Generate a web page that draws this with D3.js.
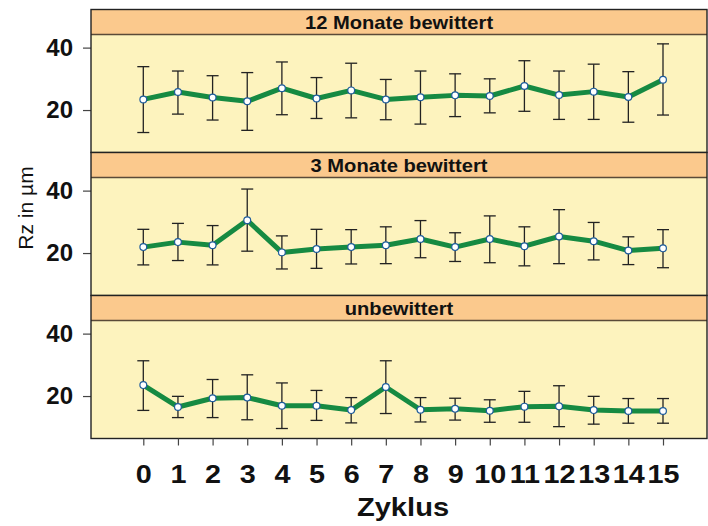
<!DOCTYPE html>
<html>
<head>
<meta charset="utf-8">
<script src="https://cdn.jsdelivr.net/npm/d3@7"></script>
<style>
  body { margin: 0; background: #fff; }
  svg { display: block; font-family: Arial, "Liberation Sans", sans-serif; }
</style>
</head>
<body>
<div id="chart"></div>
<script>
const cycles = [0, 1, 2, 3, 4, 5, 6, 7, 8, 9, 10, 11, 12, 13, 14, 15];
const panelNames = ['12 Monate bewittert', '3 Monate bewittert', 'unbewittert'];
const yTicks = [20, 40];

// 12 Monate bewittert
const mean12 = [23.4, 25.8, 24.0, 22.8, 27.0, 23.7, 26.3, 23.4, 24.1, 24.7, 24.5, 27.7, 24.8, 25.9, 24.2, 29.7];
const low12 = [12.8, 18.7, 16.8, 13.5, 18.5, 17.3, 17.5, 16.9, 15.5, 17.9, 19.1, 19.6, 17.0, 17.0, 16.1, 18.4];
const high12 = [33.9, 32.5, 31.0, 32.0, 35.4, 30.4, 35.0, 29.8, 32.5, 31.6, 30.0, 35.8, 32.5, 34.7, 32.3, 41.2];

// 3 Monate bewittert
const mean3 = [21.9, 23.5, 22.5, 30.5, 20.2, 21.3, 21.9, 22.5, 24.5, 21.9, 24.5, 22.2, 25.3, 23.8, 20.8, 21.5];
const low3 = [16.2, 17.6, 16.2, 20.6, 14.9, 15.1, 16.5, 16.6, 18.5, 17.3, 16.9, 15.9, 16.6, 17.8, 16.3, 15.3];
const high3 = [27.6, 29.5, 28.8, 40.5, 25.5, 27.6, 27.5, 28.4, 30.4, 26.5, 31.9, 28.4, 33.9, 29.8, 25.2, 27.5];

// unbewittert
const mean0 = [23.5, 16.5, 19.3, 19.5, 16.9, 16.9, 15.5, 22.9, 15.6, 15.9, 15.3, 16.6, 16.7, 15.5, 15.2, 15.2];
const low0 = [15.4, 13.1, 13.1, 12.4, 9.6, 12.2, 11.4, 14.4, 11.7, 12.3, 11.6, 11.6, 10.2, 11.0, 11.3, 11.3];
const high0 = [31.3, 19.9, 25.3, 26.8, 24.2, 21.8, 19.5, 31.3, 19.5, 19.3, 18.8, 21.5, 23.3, 19.9, 19.2, 19.2];

const series = [
  { mean: mean12, low: low12, high: high12 },
  { mean: mean3, low: low3, high: high3 },
  { mean: mean0, low: low0, high: high0 }
];

const width = 708;
const height = 526;
const left = 91, right = 707;
const top0 = 9.5, stripH = 25, plotH = 118, panelH = stripH + plotH;

const svg = d3.select('#chart')
  .append('svg')
    .attr('width', width)
    .attr('height', height);

const x = d3.scaleLinear()
  .domain([0, 15])
  .range([143.3, 663]);

panelNames.forEach((name, i) => {
  const s = series[i];
  const pTop = top0 + i * panelH;
  const plotTop = pTop + stripH;
  const plotBottom = plotTop + plotH;

  const y = d3.scaleLinear()
    .domain([6.4, 44.2])
    .range([plotBottom, plotTop]);

  const g = svg.append('g');

  // strip
  g.append('rect')
    .attr('x', left).attr('y', pTop)
    .attr('width', right - left).attr('height', stripH)
    .attr('fill', '#fbc98d');
  g.append('text')
    .attr('transform', `translate(${(left + right) / 2},${pTop + 19}) scale(1.12,1)`)
    .attr('text-anchor', 'middle')
    .attr('font-weight', 'bold')
    .attr('font-size', 18)
    .attr('fill', '#111')
    .text(name);

  // plot area
  g.append('rect')
    .attr('x', left).attr('y', plotTop)
    .attr('width', right - left).attr('height', plotH)
    .attr('fill', '#fdf3be');

  // y axis
  const ay = g.append('g')
    .attr('transform', `translate(${left},0)`)
    .call(d3.axisLeft(y).tickValues(yTicks).tickSize(8).tickPadding(10));
  ay.select('.domain').remove();
  ay.selectAll('line').attr('stroke', '#444').attr('stroke-width', 1.2);
  ay.selectAll('text')
    .attr('font-size', 24)
    .attr('font-weight', 'bold')
    .attr('font-family', 'Arial, "Liberation Sans", sans-serif')
    .attr('fill', '#111');

  // error bars
  const bars = g.append('g')
    .attr('stroke', '#222')
    .attr('stroke-width', 1.3);
  cycles.forEach((c, j) => {
    const cx = x(c);
    bars.append('line')
      .attr('x1', cx).attr('x2', cx)
      .attr('y1', y(s.low[j])).attr('y2', y(s.high[j]));
    bars.append('line')
      .attr('x1', cx - 6).attr('x2', cx + 6)
      .attr('y1', y(s.low[j])).attr('y2', y(s.low[j]));
    bars.append('line')
      .attr('x1', cx - 6).attr('x2', cx + 6)
      .attr('y1', y(s.high[j])).attr('y2', y(s.high[j]));
  });

  // mean line
  const line = d3.line()
    .x((d, j) => x(cycles[j]))
    .y(d => y(d));
  g.append('path')
    .datum(s.mean)
    .attr('d', line)
    .attr('fill', 'none')
    .attr('stroke', '#168a42')
    .attr('stroke-width', 5)
    .attr('stroke-linejoin', 'round');

  g.selectAll('circle')
    .data(s.mean)
    .enter()
    .append('circle')
      .attr('cx', (d, j) => x(cycles[j]))
      .attr('cy', d => y(d))
      .attr('r', 3.4)
      .attr('fill', '#fff')
      .attr('stroke', '#1f5d9c')
      .attr('stroke-width', 1.2);

  // borders
  g.append('line')
    .attr('x1', left).attr('x2', right)
    .attr('y1', plotTop).attr('y2', plotTop)
    .attr('stroke', '#5a4a38').attr('stroke-width', 1.3);
  g.append('rect')
    .attr('x', left).attr('y', pTop)
    .attr('width', right - left).attr('height', panelH)
    .attr('fill', 'none')
    .attr('stroke', '#222')
    .attr('stroke-width', 1.4);

  if (i === panelNames.length - 1) {
    const ax = g.append('g')
      .attr('transform', `translate(0,${plotBottom})`)
      .call(d3.axisBottom(x).tickValues(cycles).tickSize(7).tickPadding(20).tickFormat(d3.format('d')));
    ax.select('.domain').remove();
    ax.selectAll('line').attr('stroke', '#444').attr('stroke-width', 1.2);
    ax.selectAll('text')
      .attr('transform', 'scale(1.15,1)')
      .attr('font-size', 25)
      .attr('font-weight', 'bold')
      .attr('font-family', 'Arial, "Liberation Sans", sans-serif')
      .attr('fill', '#111');
  }
});

svg.append('text')
  .attr('transform', 'translate(403,516) scale(1.12,1)')
  .attr('text-anchor', 'middle')
  .attr('font-size', 26)
  .attr('font-weight', 'bold')
  .attr('fill', '#111')
  .text('Zyklus');

svg.append('text')
  .attr('transform', 'translate(33,208) rotate(-90)')
  .attr('text-anchor', 'middle')
  .attr('font-size', 21)
  .attr('fill', '#111')
  .text('Rz in µm');
</script>
</body>
</html>
